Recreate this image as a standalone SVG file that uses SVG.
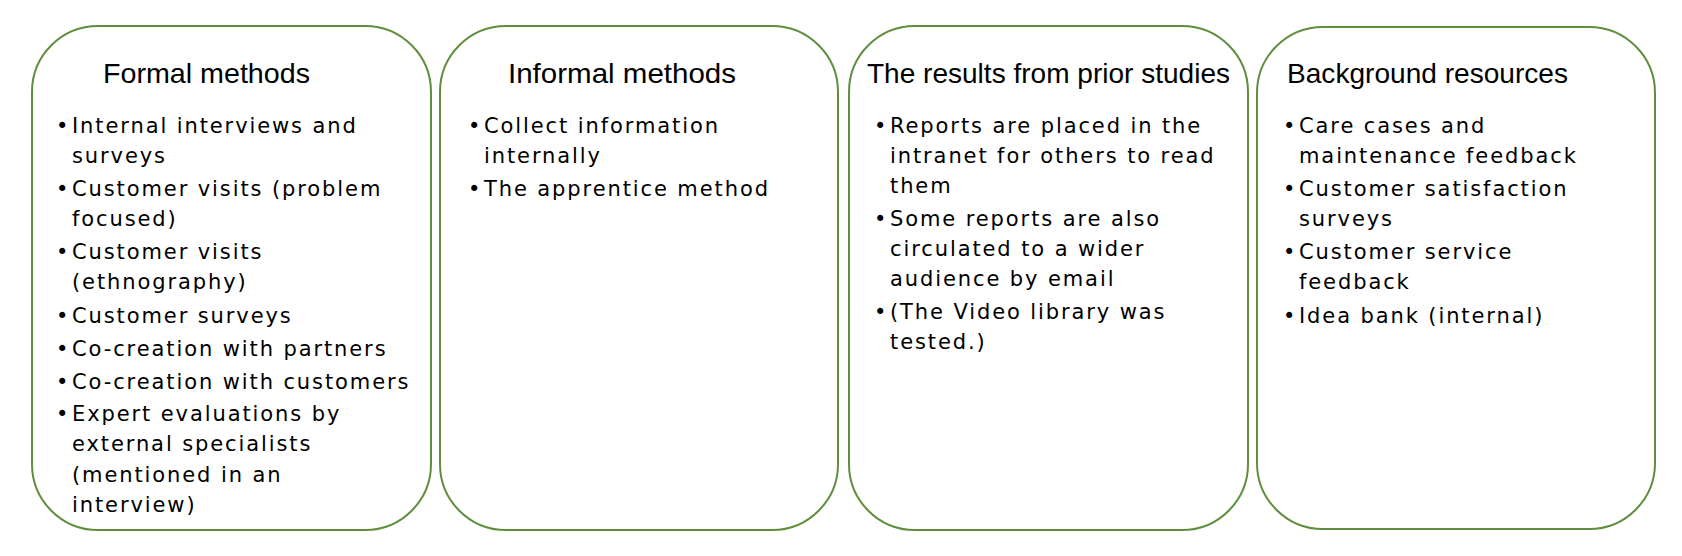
<svg xmlns="http://www.w3.org/2000/svg" width="1682" height="556" viewBox="0 0 1682 556">
<style>
.box{fill:#fff;stroke:#5f8f3e;stroke-width:2}
.t{font-family:"Liberation Sans",Arial,sans-serif;font-size:28px;fill:#000}
.b{font-family:"DejaVu Sans",Verdana,sans-serif;font-size:21px;letter-spacing:1.9px;fill:#000}
</style>
<rect width="1682" height="556" fill="#fff"/>
<g id="connectors"/>
<g id="formal">
<rect class="box" x="32" y="26" width="399" height="504" rx="66"/>
<text class="t" x="103" y="83" textLength="207" lengthAdjust="spacingAndGlyphs">Formal methods</text>
<text class="b">
<tspan x="56" y="133">•</tspan><tspan x="72" y="133">Internal interviews and</tspan><tspan x="72" y="163">surveys</tspan>
<tspan x="56" y="196">•</tspan><tspan x="72" y="196">Customer visits (problem</tspan><tspan x="72" y="226">focused)</tspan>
<tspan x="56" y="259">•</tspan><tspan x="72" y="259">Customer visits</tspan><tspan x="72" y="289">(ethnography)</tspan>
<tspan x="56" y="323">•</tspan><tspan x="72" y="323">Customer surveys</tspan>
<tspan x="56" y="356">•</tspan><tspan x="72" y="356">Co-creation with partners</tspan>
<tspan x="56" y="389">•</tspan><tspan x="72" y="389">Co-creation with customers</tspan>
<tspan x="56" y="421">•</tspan><tspan x="72" y="421">Expert evaluations by</tspan><tspan x="72" y="451">external specialists</tspan><tspan x="72" y="482">(mentioned in an</tspan><tspan x="72" y="512">interview)</tspan>
</text>
</g>
<g id="informal">
<rect class="box" x="440" y="26" width="398" height="504" rx="66"/>
<text class="t" x="508" y="83" textLength="228" lengthAdjust="spacingAndGlyphs">Informal methods</text>
<text class="b">
<tspan x="468" y="133">•</tspan><tspan x="484" y="133">Collect information</tspan><tspan x="484" y="163">internally</tspan>
<tspan x="468" y="196">•</tspan><tspan x="484" y="196">The apprentice method</tspan>
</text>
</g>
<g id="prior">
<rect class="box" x="849" y="26" width="399" height="504" rx="66"/>
<text class="t" x="867" y="83" textLength="363" lengthAdjust="spacingAndGlyphs">The results from prior studies</text>
<text class="b">
<tspan x="874" y="133">•</tspan><tspan x="890" y="133">Reports are placed in the</tspan><tspan x="890" y="163">intranet for others to read</tspan><tspan x="890" y="193">them</tspan>
<tspan x="874" y="226">•</tspan><tspan x="890" y="226">Some reports are also</tspan><tspan x="890" y="256">circulated to a wider</tspan><tspan x="890" y="286">audience by email</tspan>
<tspan x="874" y="319">•</tspan><tspan x="890" y="319">(The Video library was</tspan><tspan x="890" y="349">tested.)</tspan>
</text>
</g>
<g id="background">
<rect class="box" x="1257" y="27" width="398" height="502" rx="66"/>
<text class="t" x="1287" y="83" textLength="281" lengthAdjust="spacingAndGlyphs">Background resources</text>
<text class="b">
<tspan x="1283" y="133">•</tspan><tspan x="1299" y="133">Care cases and</tspan><tspan x="1299" y="163">maintenance feedback</tspan>
<tspan x="1283" y="196">•</tspan><tspan x="1299" y="196">Customer satisfaction</tspan><tspan x="1299" y="226">surveys</tspan>
<tspan x="1283" y="259">•</tspan><tspan x="1299" y="259">Customer service</tspan><tspan x="1299" y="289">feedback</tspan>
<tspan x="1283" y="323">•</tspan><tspan x="1299" y="323">Idea bank (internal)</tspan>
</text>
</g>
</svg>
